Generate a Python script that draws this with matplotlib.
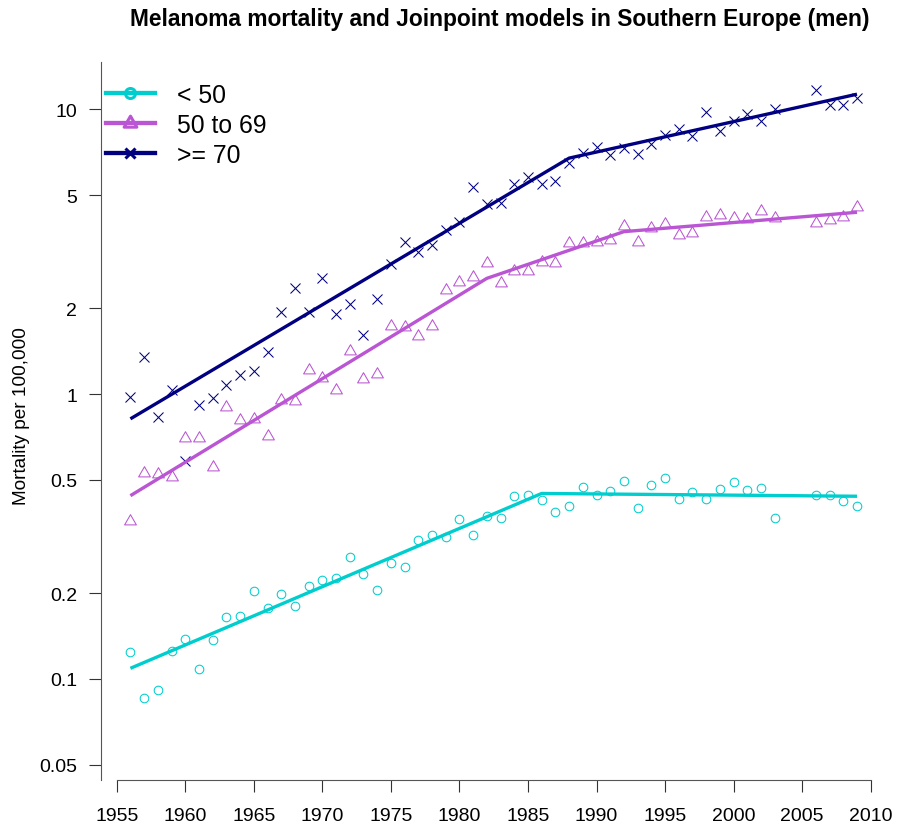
import matplotlib
matplotlib.use("Agg")
import matplotlib.pyplot as plt
from matplotlib.lines import Line2D
from matplotlib.path import Path
from matplotlib.font_manager import FontProperties

# Observed mortality rates (per 100,000), Southern Europe, men
years = list(range(1956, 2004)) + [2006, 2007, 2008, 2009]

rate_lt50 = [0.124, 0.086, 0.0916, 0.125, 0.138, 0.108, 0.137, 0.165, 0.167, 0.204,
             0.177, 0.199, 0.180, 0.212, 0.223, 0.227, 0.267, 0.234, 0.206, 0.256,
             0.247, 0.308, 0.319, 0.315, 0.363, 0.321, 0.373, 0.366, 0.438, 0.441,
             0.426, 0.387, 0.404, 0.471, 0.444, 0.456, 0.495, 0.397, 0.479, 0.508,
             0.430, 0.452, 0.430, 0.464, 0.491, 0.460, 0.467, 0.368,
             0.442, 0.442, 0.420, 0.406]

rate_50_69 = [0.358, 0.529, 0.526, 0.512, 0.702, 0.699, 0.555, 0.902, 0.810, 0.815,
              0.714, 0.952, 0.945, 1.22, 1.135, 1.033, 1.42, 1.126, 1.18, 1.738,
              1.714, 1.60, 1.738, 2.32, 2.47, 2.57, 2.89, 2.45, 2.71, 2.71,
              2.92, 2.88, 3.40, 3.40, 3.43, 3.47, 3.90, 3.41, 3.84, 3.97,
              3.62, 3.67, 4.20, 4.26, 4.15, 4.12, 4.41, 4.15,
              3.98, 4.09, 4.20, 4.55]

rate_ge70 = [0.979, 1.35, 0.832, 1.033, 0.583, 0.915, 0.973, 1.081, 1.166, 1.207,
             1.41, 1.937, 2.365, 1.946, 2.55, 1.91, 2.08, 1.608, 2.157, 2.86,
             3.41, 3.16, 3.34, 3.77, 4.01, 5.35, 4.65, 4.70, 5.46, 5.78,
             5.47, 5.62, 6.47, 7.02, 7.36, 6.92, 7.31, 6.98, 7.55, 8.13,
             8.53, 8.07, 9.78, 8.40, 9.11, 9.62, 9.11, 10.04,
             11.65, 10.37, 10.37, 11.0]

# Joinpoint model fits (segment end points)
jp_years_lt50 = [1956, 1986, 2009]
jp_fit_lt50 = [0.109, 0.448, 0.438]
jp_years_50_69 = [1956, 1982, 1992, 2009]
jp_fit_50_69 = [0.44, 2.55, 3.72, 4.35]
jp_years_ge70 = [1956, 1988, 2009]
jp_fit_ge70 = [0.819, 6.74, 11.3]

labels = ["< 50", "50 to 69", ">= 70"]
colors = ["#00CDCD", "#BA55D3", "#000080"]

y_ticks = [0.05, 0.1, 0.2, 0.5, 1, 2, 5, 10]
y_ticklabels = ["0.05", "0.1", "0.2", "0.5", "1", "2", "5", "10"]
x_ticks = list(range(1955, 2011, 5))

title = "Melanoma mortality and Joinpoint models in Southern Europe (men)"
ylabel = "Mortality per 100,000"

plt.rcParams["font.family"] = ["Liberation Sans", "DejaVu Sans"]

W, H = 897, 828
fig = plt.figure(figsize=(W / 100, H / 100), dpi=100)
left, right, top, bottom = 101.35, 886.05, 63.0, 781.0
ax = fig.add_axes([left / W, 1 - bottom / H, (right - left) / W, (bottom - top) / H])

# equilateral triangle centred on its centroid
tri = Path([(0, 0.5774), (-0.5, -0.2887), (0.5, -0.2887), (0, 0.5774)], closed=True)
markers = ["o", tri, "x"]
marker_sizes = [6.2, 9.8, 6.8]

series = [rate_lt50, rate_50_69, rate_ge70]
fits = [(jp_years_lt50, jp_fit_lt50), (jp_years_50_69, jp_fit_50_69), (jp_years_ge70, jp_fit_ge70)]

for vals, (fx, fy), c, m, ms in zip(series, fits, colors, markers, marker_sizes):
    ax.plot(years, vals, linestyle="none", marker=m, markersize=ms,
            markerfacecolor="none", markeredgecolor=c, markeredgewidth=0.75, zorder=2)
    ax.plot(fx, fy, color=c, linewidth=2.4, solid_capstyle="butt", zorder=3)

ax.set_yscale("log")
ax.set_xlim(1953.88, 2011.12)
ax.set_ylim(0.04418, 14.66)

ax.set_yticks(y_ticks)
ax.set_yticklabels(y_ticklabels)
ax.yaxis.set_minor_locator(matplotlib.ticker.NullLocator())
ax.set_xticks(x_ticks)
ax.set_xticklabels([str(x) for x in x_ticks])

for s in ["top", "right"]:
    ax.spines[s].set_visible(False)
ax.spines["left"].set_color("#555555")
ax.spines["left"].set_linewidth(0.8)
ax.spines["bottom"].set_color("#555555")
ax.spines["bottom"].set_linewidth(0.8)
ax.spines["bottom"].set_bounds(1955, 2010)

ax.tick_params(axis="y", direction="out", length=8.4, width=0.8, color="#333333",
               labelsize=14, pad=8.9)
ax.tick_params(axis="x", direction="out", length=8.4, width=0.8, color="#333333",
               labelsize=14, pad=10.7)

fig.text(500 / W, 1 - 26 / H, title, ha="center", va="baseline",
         fontsize=16.4, fontweight="bold")
fig.text(21.7 / W, 1 - 416 / H, ylabel, ha="center", va="center",
         rotation=90, fontsize=13.7)

handles = [Line2D([], [], color=c, linewidth=3.1, marker=m, markersize=ms,
                  markerfacecolor="none", markeredgecolor=c, markeredgewidth=2.2)
           for c, m, ms in zip(colors, markers, [7.2, 10.6, 7.6])]
ax.legend(handles, labels, loc="upper left", bbox_to_anchor=(106 / W, 1 - 84 / H),
          bbox_transform=fig.transFigure, frameon=False, borderpad=0,
          borderaxespad=0, handlelength=1.98, handletextpad=0.88,
          labelspacing=0.24, numpoints=1,
          prop=FontProperties(family="Liberation Sans", size=17.8))

fig.savefig("out.png", dpi=100)
